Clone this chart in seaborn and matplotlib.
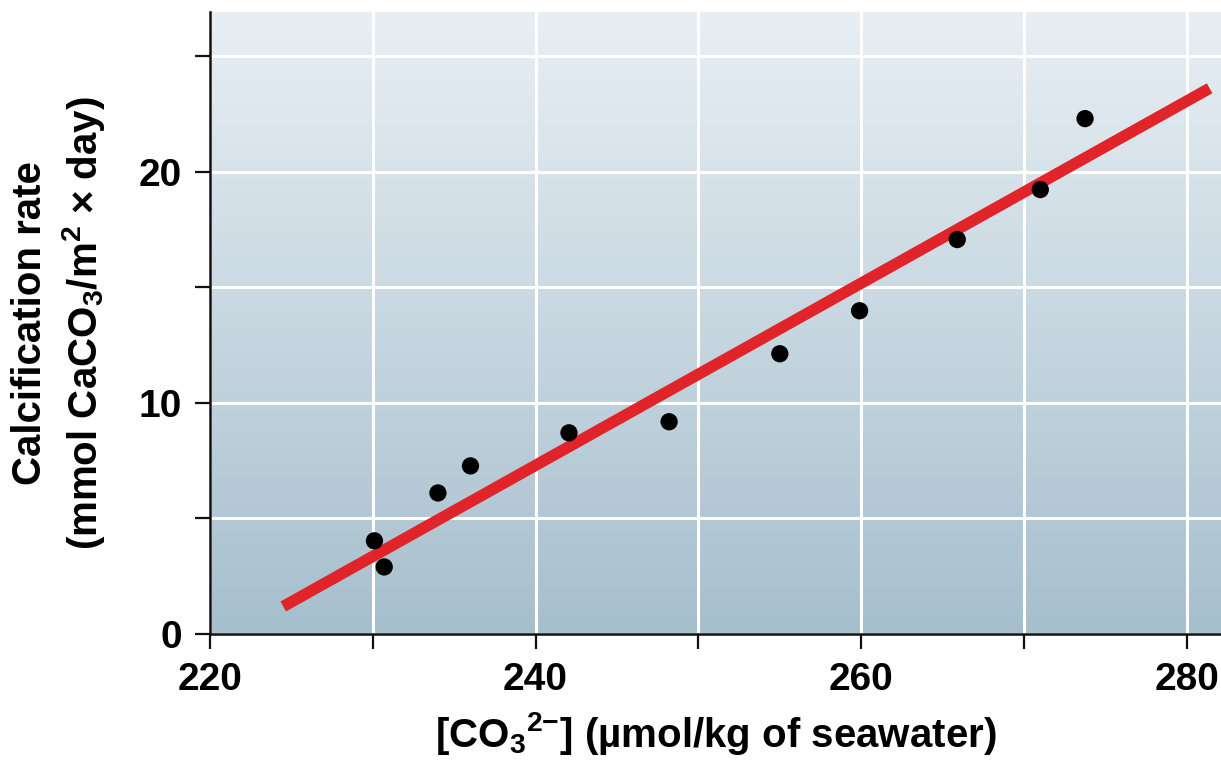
import matplotlib
matplotlib.use("Agg")
import matplotlib.pyplot as plt
from matplotlib.colors import LinearSegmentedColormap
from matplotlib.ticker import MultipleLocator
import seaborn as sns
import numpy as np
import pandas as pd

# ─── Dane ───────────────────────────────────────────────────────────
co3 = [230.1, 230.7, 234.0, 236.0, 242.05, 248.2, 255.0, 259.9, 265.9, 271.0, 273.75]
calc_rate = [4.03, 2.90, 6.10, 7.27, 8.70, 9.18, 12.12, 13.98, 17.06, 19.22, 22.29]
fit_x = [224.5, 281.4]
fit_y = [1.19, 23.6]
x_ticks = [220, 240, 260, 280]
y_ticks = [0, 10, 20]

# ─── Styl ───────────────────────────────────────────────────────────
sns.set_theme(style="ticks")
plt.rcParams.update({
    'font.family': ['Liberation Sans', 'DejaVu Sans'],
    'font.weight': 'bold',
    'mathtext.default': 'regular',
    'text.color': 'black',
    'axes.labelcolor': 'black',
    'xtick.color': 'black',
    'ytick.color': 'black',
})

df = pd.DataFrame({'co3': co3, 'rate': calc_rate})
fit = pd.DataFrame({'x': fit_x, 'y': fit_y})

fig = plt.figure(figsize=(12.21, 7.64), dpi=100)
ax = fig.add_axes([210 / 1221, 130 / 764, 1 - 210 / 1221, 622 / 764])

xlim = (220, 282.1)
ylim = (0, 26.9)

# gradient tła (jasny u góry, ciemniejszy na dole)
bg = LinearSegmentedColormap.from_list('bg', ['#a6bfcd', '#e8eff4'])
grad = np.linspace(0, 1, 256).reshape(-1, 1)
ax.imshow(grad, cmap=bg, origin='lower', aspect='auto',
          extent=[xlim[0], xlim[1], ylim[0], ylim[1]], zorder=0)

sns.lineplot(data=fit, x='x', y='y', ax=ax, color='#e0242a', linewidth=8.2,
             solid_capstyle='butt', zorder=3)
sns.scatterplot(data=df, x='co3', y='rate', ax=ax, color='black', s=155,
                edgecolor='none', zorder=4)

ax.set_xlim(*xlim)
ax.set_ylim(*ylim)
ax.set_xticks(x_ticks)
ax.set_yticks(y_ticks)
ax.xaxis.set_minor_locator(MultipleLocator(10))
ax.yaxis.set_minor_locator(MultipleLocator(5))

ax.grid(True, which='both', color='white', linewidth=2.2)
for gl in ax.get_xgridlines() + ax.get_ygridlines():
    gl.set_zorder(1)

sns.despine(ax=ax)
for side in ['left', 'bottom']:
    ax.spines[side].set_linewidth(1.8)
    ax.spines[side].set_color('#111111')
    ax.spines[side].set_zorder(5)
ax.tick_params(which='both', direction='out', length=11, width=1.6, color='#111111')
ax.tick_params(which='major', labelsize=28, pad=9)

ax.set_xlabel('[CO$_3$$^{2{\u2212}}$] (µmol/kg of seawater)', fontsize=29,
              fontweight='bold', labelpad=9)
ax.set_ylabel('Calcification rate\n(mmol CaCO$_3$/m$^2$ × day)', fontsize=29,
              fontweight='bold', linespacing=1.3)
ax.yaxis.set_label_coords(-0.102, 0.5)

fig.savefig('out.png', dpi=100)
